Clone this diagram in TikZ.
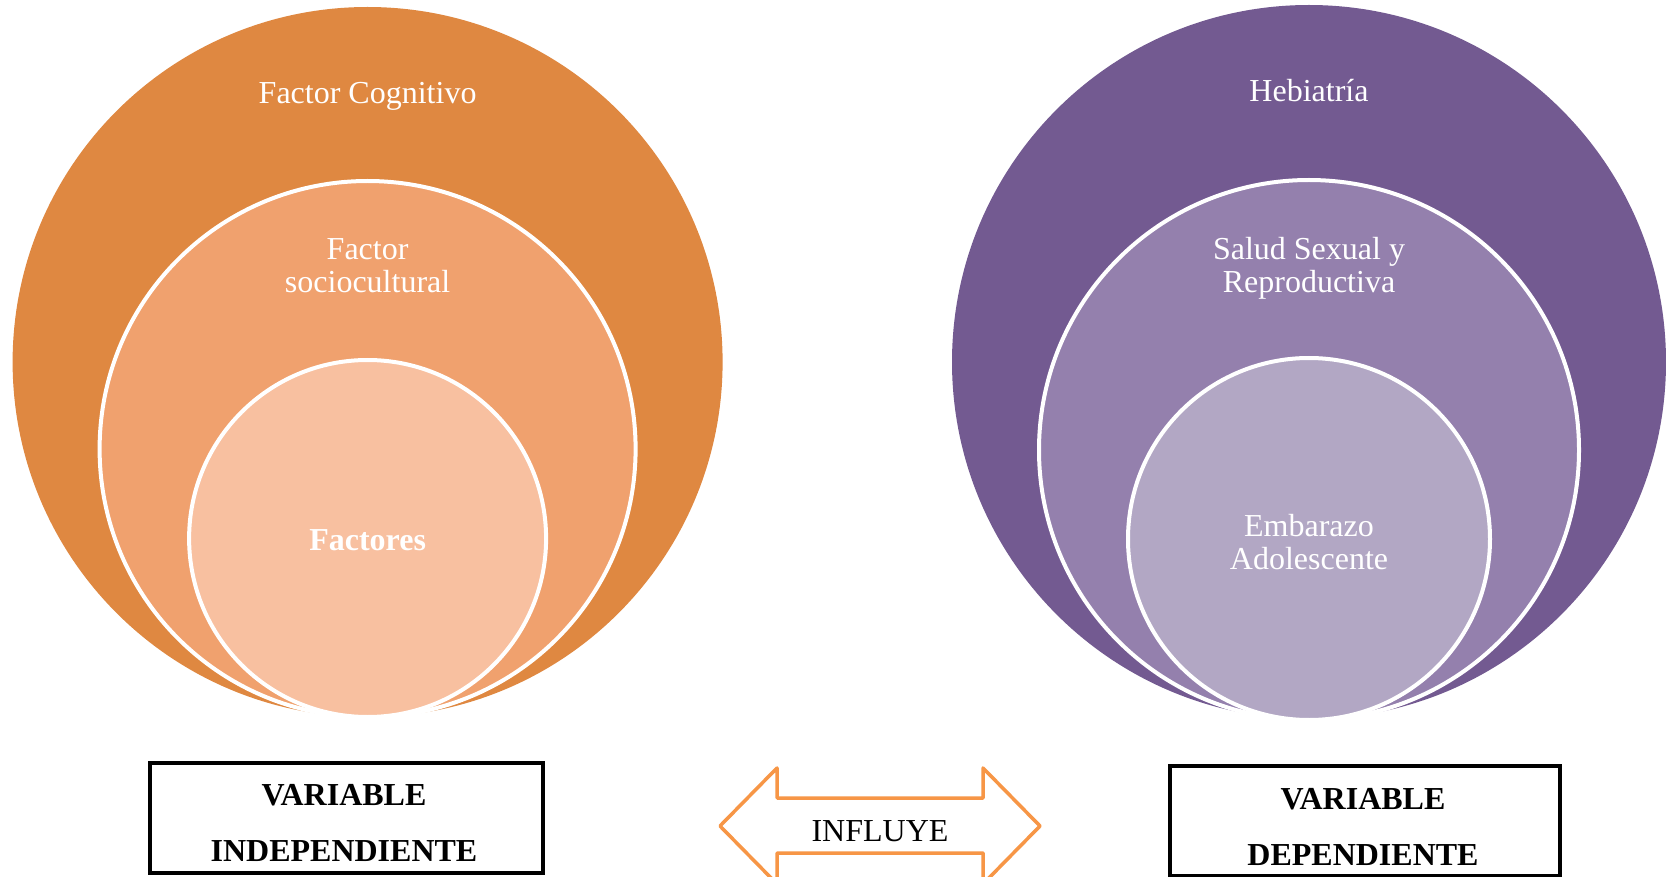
\documentclass[tikz,border=0pt]{standalone}
\usepackage{fontspec}
\setmainfont{Liberation Serif}
\definecolor{orA}{HTML}{DF8841}
\definecolor{orB}{HTML}{F0A16E}
\definecolor{orC}{HTML}{F8C0A0}
\definecolor{puA}{HTML}{735A91}
\definecolor{puB}{HTML}{9480AD}
\definecolor{puC}{HTML}{B2A7C4}
\definecolor{arrowor}{HTML}{F79646}
\tikzset{
  ring/.style={circle, inner sep=0pt, outer sep=0pt, draw=white, line width=4pt},
  wlabel/.style={anchor=base, text=white, inner sep=0pt, font=\fontsize{32}{33}\selectfont},
  blabel/.style={anchor=base, text=black, inner sep=0pt, font=\fontsize{32}{33}\selectfont\bfseries},
  varbox/.style={draw=black, line width=4.5pt, inner sep=0pt, minimum width=393pt, minimum height=110pt},
  twoway/.style={draw=arrowor, line width=3.5pt, line join=round}
}
\begin{document}
\begin{tikzpicture}[x=1pt,y=-1pt]
\useasboundingbox (0,0) rectangle (1666,877);
\clip (0,0) rectangle (1666,877);
\fill[white] (0,0) rectangle (1666,877);
% left circles
\node[ring, draw=none, fill=orA, minimum size=710pt] (lo) at (367.6,362) {};
\node[ring, fill=orB, minimum size=536pt] (lm) at (367.6,449) {};
\node[ring, fill=orC, minimum size=357pt] (li) at (367.6,538.5) {};
\node[wlabel] (t1) at (367.6,104) {Factor Cognitivo};
\node[wlabel] (t2) at (367.6,260) {Factor};
\node[wlabel] (t3) at (367.6,293) {sociocultural};
\node[wlabel, font=\fontsize{32}{33}\selectfont\bfseries] (t4) at (367.6,550) {Factores};
% right circles
\node[ring, draw=none, fill=puA, minimum size=714pt] (ro) at (1309,362) {};
\node[ring, fill=puB, minimum size=540pt] (rm) at (1309,450) {};
\node[ring, fill=puC, minimum size=362pt] (ri) at (1309,539) {};
\node[wlabel] (s1) at (1309,102) {Hebiatría};
\node[wlabel] (s2) at (1309,260) {Salud Sexual y};
\node[wlabel] (s3) at (1309,293) {Reproductiva};
\node[wlabel] (s4) at (1309,536) {Embarazo};
\node[wlabel] (s5) at (1309,569) {Adolescente};
% boxes
\node[varbox] (vi) at (346.5,818) {};
\node[blabel] (vi1) at (344,805) {VARIABLE};
\node[blabel] (vi2) at (344,861) {INDEPENDIENTE};
\node[varbox, minimum width=390pt] (vd) at (1365,821) {};
\node[blabel] (vd1) at (1363,809) {VARIABLE};
\node[blabel] (vd2) at (1363,865) {DEPENDIENTE};
% double arrow
\coordinate (al) at (720,826);
\coordinate (ar) at (1040,826);
\draw[twoway] (al) -- (777,768) -- (777,798) -- (983,798) -- (983,768) -- (ar)
  -- (983,884) -- (983,853) -- (777,853) -- (777,884) -- cycle;
\node[anchor=base, inner sep=0pt, font=\fontsize{32}{33}\selectfont] (inf) at (880,841) {INFLUYE};
\end{tikzpicture}
\end{document}
